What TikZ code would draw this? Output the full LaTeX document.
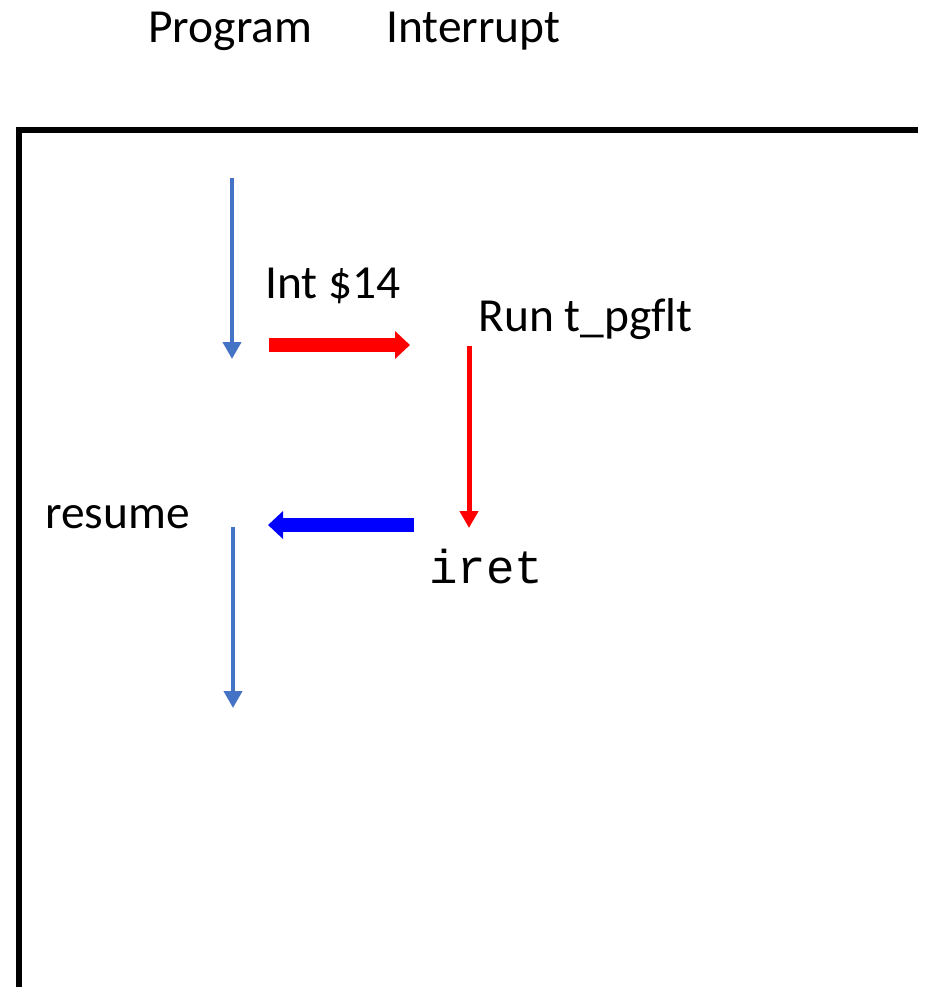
\documentclass[tikz,border=0pt]{standalone}
\usepackage{fontspec}
\setmainfont{Carlito}[Ligatures=CommonOff]
\setmonofont{Liberation Mono}
\usetikzlibrary{arrows.meta}
\definecolor{progblue}{RGB}{68,114,196}

\begin{document}
\begin{tikzpicture}[x=0.02cm, y=-0.02cm,
    lbl/.style={font=\fontsize{27}{32}\selectfont, inner sep=0pt, anchor=base west},
    flow/.style={-{Triangle[length=0.34cm, width=0.36cm]}, line width=0.08cm},
    jump/.style={-{Triangle[length=0.3cm, width=0.54cm]}, line width=0.28cm},
]
\useasboundingbox (0,0) rectangle (930,987);

% column headings
\node[lbl] (prog) at (148,42) {Program};
\node[lbl] (intr) at (386,42) {Interrupt};

% frame
\draw[line width=0.11cm] (918,130) -- (19,130) -- (19,987);

% labels
\node[lbl] (intcall) at (265,298) {Int \$14};
\node[lbl] (handler) at (478,331) {Run t\_pgflt};
\node[lbl] (resume) at (45,528) {resume};
\node[lbl, font=\ttfamily\fontsize{27}{32}\selectfont] (iret) at (429,583) {iret};

% arrow ends
\coordinate (run1a) at (232,178);
\coordinate (run1b) at (232,359);
\coordinate (trapa) at (269,345);
\coordinate (trapb) at (410,345);
\coordinate (isra)  at (469,346);
\coordinate (isrb)  at (469,528);
\coordinate (reta)  at (414,525);
\coordinate (retb)  at (268,525);
\coordinate (run2a) at (233,527);
\coordinate (run2b) at (233,708);

% program flow
\draw[flow, progblue] (run1a) -- (run1b);
\draw[flow, progblue] (run2a) -- (run2b);

% trap into the handler and back
\draw[jump, red] (trapa) -- (trapb);
\draw[flow, red, line width=0.1cm] (isra) -- (isrb);
\draw[jump, blue] (reta) -- (retb);
\end{tikzpicture}
\end{document}
